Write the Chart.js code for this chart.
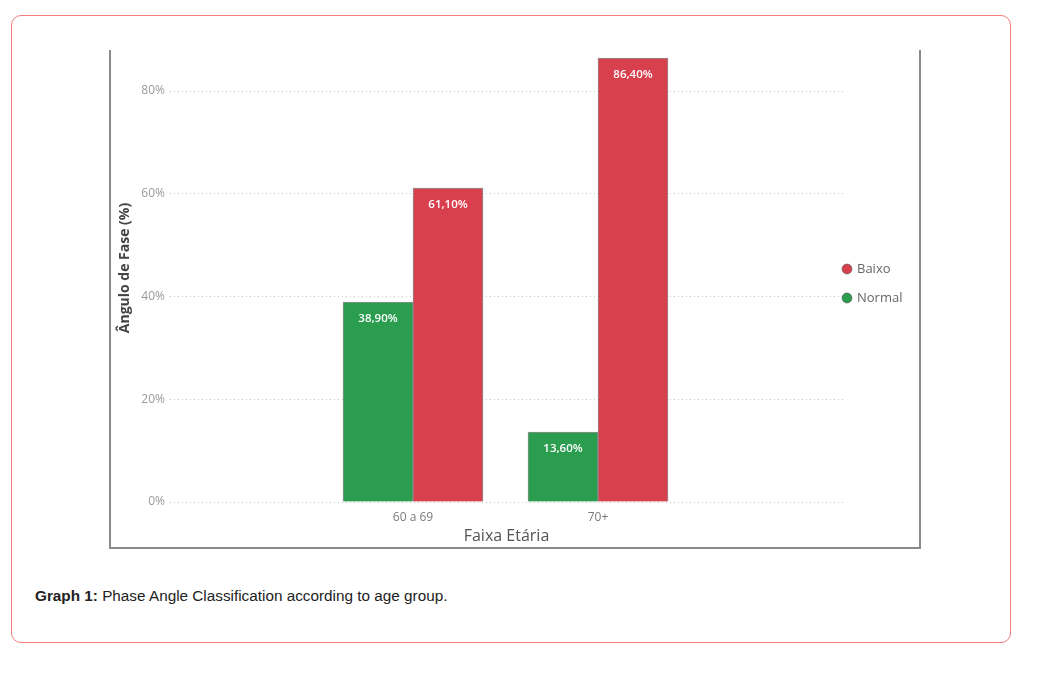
<!DOCTYPE html>
<html>
<head>
<meta charset="utf-8">
<script src="https://cdn.jsdelivr.net/npm/chart.js@4.4.1/dist/chart.umd.min.js"></script>
<style>
  html, body { margin: 0; padding: 0; background: #fff; }
  body { width: 1061px; height: 679px; position: relative; overflow: hidden; }
  #card { position: absolute; left: 11px; top: 15px; width: 1000px; height: 628px; box-sizing: border-box;
          border: 1px solid #f27d7a; border-radius: 10px; }
  #frame { position: absolute; left: 109px; top: 50px; width: 812px; height: 499px; box-sizing: border-box;
           border-left: 2px solid #8a8a8a; border-right: 2px solid #8a8a8a; border-bottom: 2px solid #8a8a8a; }
  #wrap { position: absolute; left: 112px; top: 20px; width: 801px; height: 527px; }
  #caption { position: absolute; left: 35px; top: 586px; font: 15.3px "Liberation Sans", Arial, sans-serif;
             color: #222; line-height: 20px; white-space: nowrap; }
</style>
</head>
<body>
<div id="card"></div>
<div id="frame"></div>
<div id="wrap"><canvas id="c"></canvas></div>
<div id="caption"><b>Graph 1:</b> Phase Angle Classification according to age group.</div>
<script>
const categories = ['60 a 69', '70+'];
const normalValues = [38.9, 13.6];
const baixoValues = [61.1, 86.4];
const yTicks = [0, 20, 40, 60, 80];

const FONT = '"Open Sans", "Noto Sans", sans-serif';

const toPoints = vals => vals.map((v, i) => ({ x: i, y: v }));
const fmt = v => v.toFixed(2).replace('.', ',') + '%';

const valueLabels = {
  id: 'valueLabels',
  afterDatasetsDraw(chart) {
    const ctx = chart.ctx;
    ctx.save();
    ctx.fillStyle = '#ffffff';
    ctx.font = '600 11.5px ' + FONT;
    ctx.textAlign = 'center';
    ctx.textBaseline = 'middle';
    chart.data.datasets.forEach((ds, di) => {
      const meta = chart.getDatasetMeta(di);
      meta.data.forEach((el, i) => {
        ctx.fillText(fmt(ds.data[i].y), el.x, el.y + 16.5);
      });
    });
    ctx.restore();
  }
};

const legendShift = {
  id: 'legendShift',
  afterLayout(chart) {
    const l = chart.legend;
    if (!l) return;
    l.left -= 15.5;
    l.top -= 7; l.bottom -= 7;
  }
};

new Chart(document.getElementById('c'), {
  type: 'bar',
  data: {
    datasets: [
      { label: 'Normal', data: toPoints(normalValues), backgroundColor: '#2a9d4f',
        borderColor: 'rgba(85,85,85,0.65)', borderWidth: 1, barThickness: 70 },
      { label: 'Baixo', data: toPoints(baixoValues), backgroundColor: '#d9404e',
        borderColor: 'rgba(85,85,85,0.65)', borderWidth: 1, barThickness: 70 }
    ]
  },
  options: {
    responsive: true,
    maintainAspectRatio: false,
    animation: false,
    layout: { padding: { top: 14, left: 0, right: 0, bottom: 0 } },
    scales: {
      x: {
        type: 'linear',
        offset: false,
        min: -1.3135,
        max: 2.3243,
        grid: { display: false, drawTicks: false },
        border: { display: false },
        afterBuildTicks: s => { s.ticks = categories.map((c, i) => ({ value: i })); },
        afterFit: s => { s.height = 45; },
        ticks: {
          padding: 8.6,
          color: '#7a7a7a',
          font: { family: FONT, size: 12 },
          callback: v => categories[v] ?? ''
        },
        title: {
          display: true, text: 'Faixa Etária', color: '#555',
          font: { family: FONT, size: 16 },
          padding: { top: 0, bottom: 0.6 }
        }
      },
      y: {
        min: 0,
        max: 91.1,
        afterBuildTicks: s => { s.ticks = yTicks.map(v => ({ value: v })); },
        afterFit: s => { s.width = 58; },
        grid: { color: '#c6c6c6', lineWidth: 1, drawTicks: false },
        border: { display: false, dash: [1, 3] },
        ticks: {
          padding: 5,
          color: '#9a9a9a',
          font: { family: FONT, size: 12 },
          callback: v => v + '%'
        },
        title: {
          display: true, text: 'Ângulo de Fase (%)', color: '#444',
          font: { family: FONT, size: 14, weight: 'bold' },
          padding: { top: 4.6, bottom: 0 }
        }
      }
    },
    plugins: {
      legend: {
        position: 'right',
        align: 'center',
        reverse: true,
        maxWidth: 70,
        labels: {
          usePointStyle: true,
          pointStyle: 'circle',
          boxWidth: 7,
          boxHeight: 7,
          padding: 16,
          color: '#666',
          font: { family: FONT, size: 13 }
        }
      },
      tooltip: { enabled: false }
    }
  },
  plugins: [valueLabels, legendShift]
});
</script>
</body>
</html>
